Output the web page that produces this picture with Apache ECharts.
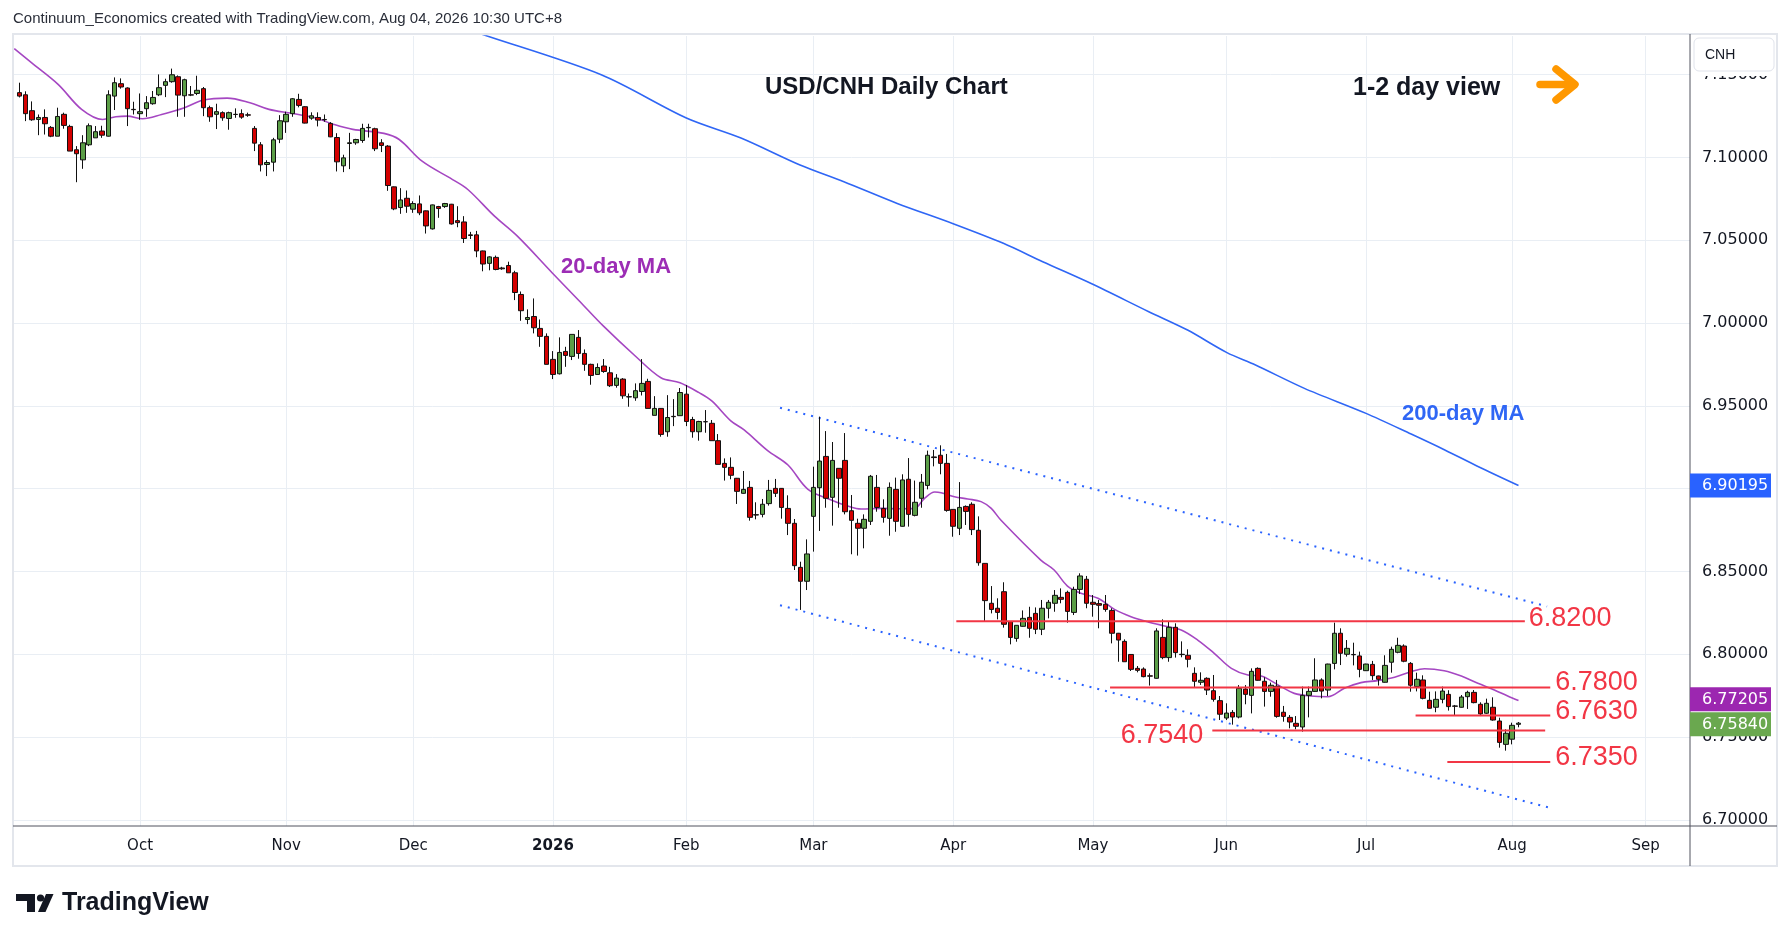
<!DOCTYPE html>
<html><head><meta charset="utf-8">
<script src="https://cdn.jsdelivr.net/npm/echarts@6/dist/echarts.min.js"></script>
<style>html,body{margin:0;padding:0;background:#fff;}#c{width:1789px;height:941px;}</style>
</head><body><div id="c"></div>
<script>
// ---- axis ticks ----
const monthTickIdx = [19,42,62,84,105,125,147,169,190,212,235,256];
const monthTickLabels = ['Oct','Nov','Dec','2026','Feb','Mar','Apr','May','Jun','Jul','Aug','Sep'];
const priceTicks = [6.70,6.75,6.80,6.85,6.90,6.95,7.00,7.05,7.10,7.15];

// ---- daily OHLC, 4 Sep 2025 .. 4 Aug 2026 (trading-day index 0..236) ----
const openP = [7.1392,7.1379,7.1283,7.1230,7.1242,7.1182,7.1129,7.1261,7.1188,7.1047,
7.0986,7.1077,7.1119,7.1160,7.1129,7.1371,7.1446,7.1420,7.1291,7.1265,
7.1295,7.1325,7.1379,7.1436,7.1458,7.1488,7.1373,7.1379,7.1387,7.1416,
7.1301,7.1261,7.1271,7.1236,7.1261,7.1265,7.1258,7.1176,7.1077,7.0958,
7.0972,7.1111,7.1216,7.1265,7.1351,7.1307,7.1238,7.1242,7.1230,7.1206,
7.1121,7.0950,7.1085,7.1089,7.1103,7.1180,7.1174,7.1089,7.1069,7.0823,
7.0698,7.0754,7.0688,7.0720,7.0678,7.0569,7.0704,7.0704,7.0718,7.0619,
7.0611,7.0533,7.0533,7.0436,7.0361,7.0397,7.0333,7.0348,7.0304,7.0173,
7.0022,7.0040,6.9968,6.9920,6.9781,6.9694,6.9829,6.9799,6.9914,6.9817,
6.9751,6.9690,6.9741,6.9700,6.9624,6.9662,6.9556,6.9549,6.9587,6.9648,
6.9443,6.9485,6.9344,6.9437,6.9441,6.9571,6.9418,6.9344,6.9404,6.9395,
6.9290,6.9153,6.9129,6.9063,6.8972,6.9008,6.8843,6.8845,6.8910,6.9002,
6.9002,6.8881,6.8791,6.8525,6.8441,6.8833,6.9006,6.9195,6.8948,6.9123,
6.9171,6.8867,6.8791,6.8761,6.8803,6.9008,6.8881,6.8821,6.8996,6.8773,
6.9057,6.8839,6.8942,6.9020,6.9192,6.9202,6.9153,6.8875,6.8761,6.8893,
6.8906,6.8749,6.8549,6.8308,6.8278,6.8378,6.8197,6.8096,6.8169,6.8223,
6.8247,6.8151,6.8278,6.8308,6.8344,6.8374,6.8253,6.8392,6.8453,6.8314,
6.8306,6.8302,6.8265,6.8127,6.8078,6.7999,6.7915,6.7911,6.7870,6.7855,
6.8102,6.7980,6.8163,6.7998,6.7994,6.7885,6.7831,6.7855,6.7780,6.7720,
6.7615,6.7649,6.7621,6.7790,6.7752,6.7915,6.7837,6.7776,6.7807,6.7650,
6.7619,6.7583,6.7561,6.7752,6.7776,6.7845,6.7784,6.7945,6.8127,6.8000,
6.7999,6.7990,6.7901,6.7939,6.7869,6.7831,6.7952,6.8012,6.8050,6.7945,
6.7805,6.7845,6.7722,6.7680,6.7728,6.7758,6.7688,6.7680,6.7744,6.7770,
6.7698,6.7644,6.7680,6.7597,6.7456,6.7487,6.7577];
const highP = [7.1452,7.1400,7.1339,7.1260,7.1291,7.1190,7.1301,7.1271,7.1198,7.1069,
7.1135,7.1206,7.1190,7.1192,7.1406,7.1484,7.1478,7.1424,7.1337,7.1387,
7.1371,7.1402,7.1502,7.1476,7.1537,7.1496,7.1476,7.1432,7.1494,7.1426,
7.1313,7.1325,7.1279,7.1277,7.1297,7.1291,7.1271,7.1190,7.1093,7.0984,
7.1119,7.1256,7.1277,7.1359,7.1385,7.1310,7.1273,7.1273,7.1260,7.1214,
7.1147,7.1017,7.1149,7.1113,7.1204,7.1204,7.1180,7.1111,7.1075,7.0825,
7.0815,7.0801,7.0736,7.0771,7.0680,7.0716,7.0708,7.0726,7.0720,7.0706,
7.0646,7.0551,7.0557,7.0438,7.0404,7.0408,7.0340,7.0371,7.0316,7.0191,
7.0083,7.0149,7.0022,6.9938,6.9831,6.9914,6.9857,6.9932,6.9958,6.9841,
6.9755,6.9757,6.9783,6.9736,6.9692,6.9668,6.9575,6.9636,6.9783,6.9664,
6.9559,6.9487,6.9565,6.9541,6.9608,6.9626,6.9434,6.9410,6.9475,6.9415,
6.9330,6.9183,6.9189,6.9065,6.9107,6.9047,6.8918,6.8938,6.9053,6.9059,
6.9004,6.8960,6.8817,6.8559,6.8694,6.9133,6.9435,6.9348,6.9282,6.9125,
6.9336,6.8962,6.8819,6.8845,6.9083,6.9083,6.8936,6.9038,6.9067,6.9087,
6.9185,6.9049,6.9089,6.9230,6.9234,6.9262,6.9210,6.8877,6.9040,6.8899,
6.8918,6.8833,6.8551,6.8412,6.8338,6.8435,6.8199,6.8175,6.8265,6.8287,
6.8283,6.8328,6.8328,6.8388,6.8398,6.8384,6.8408,6.8489,6.8473,6.8358,
6.8328,6.8358,6.8278,6.8129,6.8090,6.8001,6.7929,6.7921,6.7885,6.8157,
6.8211,6.8195,6.8187,6.8078,6.8030,6.7921,6.7891,6.7861,6.7875,6.7748,
6.7704,6.7663,6.7814,6.7814,6.7915,6.7921,6.7861,6.7829,6.7845,6.7688,
6.7633,6.7627,6.7805,6.7805,6.7976,6.7855,6.7943,6.8191,6.8157,6.8086,
6.8070,6.8016,6.7943,6.7960,6.7871,6.7994,6.8046,6.8100,6.8060,6.7953,
6.7889,6.7873,6.7774,6.7776,6.7805,6.7783,6.7694,6.7754,6.7780,6.7784,
6.7710,6.7732,6.7740,6.7617,6.7547,6.7587,6.7591];
const lowP = [7.1363,7.1220,7.1222,7.1135,7.1139,7.1123,7.1129,7.1174,7.1039,7.0851,
7.0932,7.1069,7.1119,7.1119,7.1127,7.1287,7.1416,7.1190,7.1260,7.1228,
7.1246,7.1319,7.1371,7.1365,7.1452,7.1246,7.1246,7.1371,7.1377,7.1250,
7.1216,7.1172,7.1222,7.1168,7.1240,7.1234,7.1246,7.1039,7.0916,7.0888,
7.0916,7.1087,7.1149,7.1246,7.1303,7.1206,7.1228,7.1188,7.1216,7.1123,
7.0916,7.0912,7.0930,7.1077,7.1089,7.1121,7.1039,7.1033,7.0799,7.0682,
7.0660,7.0666,7.0666,7.0652,7.0541,7.0565,7.0636,7.0696,7.0595,7.0579,
7.0484,7.0508,7.0398,7.0313,7.0319,7.0319,7.0322,7.0304,7.0139,7.0014,
6.9994,6.9938,6.9857,6.9751,6.9662,6.9690,6.9736,6.9777,6.9785,6.9712,
6.9628,6.9688,6.9700,6.9614,6.9610,6.9543,6.9495,6.9531,6.9563,6.9485,
6.9443,6.9314,6.9314,6.9378,6.9441,6.9378,6.9308,6.9290,6.9338,6.9290,
6.9147,6.9049,6.9057,6.8908,6.8970,6.8807,6.8815,6.8827,6.8898,6.8950,
6.8819,6.8720,6.8509,6.8268,6.8388,6.8620,6.8745,6.8885,6.8777,6.8885,
6.8845,6.8604,6.8596,6.8640,6.8781,6.8861,6.8795,6.8716,6.8740,6.8771,
6.8771,6.8833,6.8885,6.8996,6.9135,6.9087,6.8861,6.8710,6.8720,6.8781,
6.8720,6.8535,6.8197,6.8247,6.8211,6.8161,6.8060,6.8076,6.8167,6.8100,
6.8122,6.8116,6.8217,6.8257,6.8308,6.8191,6.8237,6.8364,6.8278,6.8227,
6.8157,6.8257,6.8066,6.7955,6.7955,6.7899,6.7891,6.7861,6.7811,6.7853,
6.7970,6.7955,6.7980,6.7982,6.7921,6.7798,6.7815,6.7754,6.7714,6.7603,
6.7603,6.7575,6.7613,6.7698,6.7643,6.7841,6.7684,6.7744,6.7617,6.7593,
6.7553,6.7547,6.7533,6.7619,6.7774,6.7734,6.7748,6.7909,6.7935,6.7986,
6.7933,6.7861,6.7899,6.7845,6.7811,6.7829,6.7889,6.8006,6.7952,6.7774,
6.7776,6.7728,6.7672,6.7650,6.7704,6.7660,6.7629,6.7678,6.7670,6.7704,
6.7627,6.7640,6.7599,6.7436,6.7418,6.7456,6.7559];
const closeP = [7.1371,7.1265,7.1228,7.1242,7.1204,7.1129,7.1248,7.1194,7.1039,7.1023,
7.1089,7.1192,7.1156,7.1135,7.1379,7.1452,7.1426,7.1295,7.1289,7.1277,
7.1331,7.1363,7.1422,7.1458,7.1500,7.1377,7.1470,7.1377,7.1406,7.1301,
7.1246,7.1277,7.1240,7.1271,7.1260,7.1244,7.1256,7.1087,7.0956,7.0970,
7.1107,7.1222,7.1261,7.1355,7.1315,7.1208,7.1252,7.1226,7.1228,7.1125,
7.0974,7.0998,7.1089,7.1109,7.1176,7.1182,7.1053,7.1073,7.0831,7.0690,
7.0744,7.0706,7.0722,7.0666,7.0587,7.0714,7.0692,7.0722,7.0599,7.0607,
7.0511,7.0529,7.0436,7.0357,7.0400,7.0324,7.0328,7.0304,7.0185,7.0075,
7.0034,6.9972,6.9920,6.9751,6.9690,6.9823,6.9805,6.9932,6.9817,6.9751,
6.9684,6.9732,6.9708,6.9622,6.9668,6.9561,6.9554,6.9592,6.9636,6.9485,
6.9485,6.9328,6.9430,6.9435,6.9581,6.9406,6.9344,6.9406,6.9405,6.9290,
6.9147,6.9129,6.9081,6.8984,6.8996,6.8827,6.8841,6.8906,6.8990,6.8972,
6.8887,6.8791,6.8535,6.8441,6.8606,6.9008,6.9167,6.8942,6.9171,6.9063,
6.8861,6.8809,6.8761,6.8815,6.9075,6.8887,6.8827,6.9008,6.8803,6.9053,
6.8845,6.8918,6.9039,6.9202,6.9188,6.9153,6.8869,6.8773,6.8887,6.8863,
6.8753,6.8553,6.8324,6.8271,6.8253,6.8181,6.8102,6.8175,6.8217,6.8157,
6.8151,6.8278,6.8314,6.8356,6.8332,6.8259,6.8392,6.8473,6.8308,6.8302,
6.8296,6.8271,6.8127,6.8086,6.7955,6.7909,6.7903,6.7865,6.7868,6.8141,
6.7980,6.8163,6.8010,6.8000,6.7970,6.7837,6.7843,6.7784,6.7728,6.7638,
6.7645,6.7621,6.7794,6.7758,6.7897,6.7843,6.7776,6.7813,6.7625,6.7625,
6.7591,6.7565,6.7752,6.7776,6.7845,6.7778,6.7941,6.8127,6.8006,6.8036,
6.7997,6.7909,6.7941,6.7871,6.7849,6.7933,6.8030,6.8054,6.7958,6.7813,
6.7849,6.7734,6.7674,6.7728,6.7778,6.7684,6.7686,6.7742,6.7770,6.7708,
6.7640,6.7704,6.7603,6.7468,6.7523,6.7571,6.7584];

// ---- moving averages (x = trading-day index) ----
const ma20X = [-0.8,1.9,6.1,9.8,13.1,15.2,17.0,19.4,22.4,26.0,29.0,32.7,36.3,39.3,42.9,46.5,49.5,52.5,57.4,59.8,63.4,68.2,70.6,74.8,78.4,83.9,88,92,97,101,104,107,109,112,114.1,117.8,121,124.1,127.8,130.4,132.5,135.6,138.8,140.9,142.5,144.1,145.1,147.2,149.3,151.4,153,154.5,160.8,162.9,165,167.1,169.8,172.4,175,177.6,180.3,182.9,185.5,188.1,190.8,193.4,195.5,197,198.6,200.7,203.3,206,208.6,211.2,213.8,216.5,219.1,221.2,224.3,227,229.6,232.2,234.3,236];
const ma20Y = [7.1658,7.1573,7.1442,7.1291,7.1230,7.1246,7.1250,7.1234,7.1260,7.1301,7.1347,7.1359,7.1331,7.1291,7.1267,7.1240,7.1200,7.1170,7.1146,7.1109,7.0978,7.0867,7.0807,7.0646,7.0525,7.0303,7.014,6.998,6.980,6.967,6.964,6.958,6.953,6.941,6.9355,6.9230,6.9143,6.8998,6.8932,6.8895,6.8877,6.8881,6.8879,6.8881,6.8942,6.8980,6.8976,6.8952,6.8938,6.8922,6.8881,6.8811,6.8569,6.8509,6.8412,6.8368,6.8338,6.8271,6.8227,6.8197,6.8171,6.8147,6.8086,6.8006,6.7915,6.7875,6.7869,6.7841,6.7805,6.7764,6.7748,6.7744,6.7795,6.7829,6.7841,6.7861,6.7895,6.7913,6.7901,6.7869,6.7825,6.7785,6.7748,6.77205];
const ma200X = [68.0,72.4,91.6,105,113.6,122.9,129.8,138.2,146.9,154.9,161.1,168.9,177.8,183.9,190.1,194.6,202.3,212,219.1,224.4,229.7,236];
const ma200Y = [7.181,7.175,7.150,7.1239,7.1118,7.0955,7.0854,7.0723,7.0602,7.0482,7.0371,7.0236,7.0069,6.9958,6.9822,6.9747,6.9606,6.9455,6.9330,6.9234,6.9133,6.90195];

// ---- channel and horizontal levels ----
const upperChX = [119.75,240.5], upperChY = [6.9489,6.8289];
const lowerChX = [119.75,240.7], lowerChY = [6.8296,6.7075];
const levelValues = [6.82,6.78,6.763,6.754,6.735];
const levelTexts = ['6.8200','6.7800','6.7630','6.7540','6.7350'];
const levelFrom = [147.5,171.7,219.8,187.8,224.8];
const levelTo = [237.0,241.0,241.0,240.2,241.0];
const lastClose = 6.75840, lastMa20 = 6.77205, lastMa200 = 6.90195;

const RED = '#f23645';
const chart = echarts.init(document.getElementById('c'), null, {renderer:'canvas'});
const zip = (xs, ys) => xs.map((x,i)=>[x, ys[i]]);

const series = [
  {type:'candlestick', data: openP.map((o,i)=>[i,o,closeP[i],lowP[i],highP[i]]),
   encode:{x:0,y:[1,2,3,4]}, barWidth:5, z:5,
   itemStyle:{color:'#5b9e47', color0:'#d40000', borderColor:'#111', borderColor0:'#111', borderWidth:1}},
  {type:'line', data: zip(ma20X, ma20Y), showSymbol:false, smooth:0.35, z:4,
   lineStyle:{color:'#a547c2', width:1.6}},
  {type:'line', data: zip(ma200X, ma200Y), showSymbol:false, smooth:0.3, z:4,
   lineStyle:{color:'#2f66f5', width:1.6}},
  {type:'line', data: zip(upperChX, upperChY), showSymbol:false, z:3,
   lineStyle:{color:'#2962ff', width:2, type:[2,6]}},
  {type:'line', data: zip(lowerChX, lowerChY), showSymbol:false, z:3,
   lineStyle:{color:'#2962ff', width:2, type:[2,6]}}
];
levelValues.forEach((v,k)=>{
  series.push({type:'line', data:[[levelFrom[k],v],[levelTo[k],v]], showSymbol:false, z:6,
    lineStyle:{color:RED, width:2}});
});

const AX = '"DejaVu Sans", sans-serif';
const LIB = '"Liberation Sans", Arial, sans-serif';

const staticGraphics = [
  {type:'rect', shape:{x:13,y:34,width:1764,height:832}, style:{fill:'none', stroke:'#e3e6ec', lineWidth:2}, z:50},
  {type:'line', shape:{x1:1690,y1:34,x2:1690,y2:866}, style:{stroke:'#50535e', lineWidth:1}, z:50},
  {type:'line', shape:{x1:13,y1:826,x2:1777,y2:826}, style:{stroke:'#50535e', lineWidth:1}, z:50},
  {type:'text', x:13, y:19, style:{text:'Continuum_Economics created with TradingView.com, Aug 04, 2026 10:30 UTC+8', fill:'#2a2e39', fontSize:15, fontFamily:LIB, verticalAlign:'middle'}},
  {type:'text', x:765, y:87, style:{text:'USD/CNH Daily Chart', fill:'#131722', fontSize:24, fontWeight:'bold', fontFamily:LIB, verticalAlign:'middle'}, z:60},
  {type:'text', x:1353, y:88, style:{text:'1-2 day view', fill:'#131722', fontSize:25, fontWeight:'bold', fontFamily:LIB, verticalAlign:'middle'}, z:60},
  {type:'polyline', shape:{points:[[1540,84.5],[1572,84.5]]}, style:{stroke:'#ff9800', lineWidth:7.5, fill:'none', lineCap:'round'}, z:60},
  {type:'polyline', shape:{points:[[1556,69],[1575,84.5],[1556,100]]}, style:{stroke:'#ff9800', lineWidth:7.5, fill:'none', lineCap:'round', lineJoin:'round'}, z:60},
  {type:'text', x:561, y:267, style:{text:'20-day MA', fill:'#9c2db5', fontSize:22, fontWeight:'bold', fontFamily:LIB, verticalAlign:'middle'}, z:60},
  {type:'text', x:1402, y:414, style:{text:'200-day MA', fill:'#2f66f5', fontSize:22, fontWeight:'bold', fontFamily:LIB, verticalAlign:'middle'}, z:60},
  {type:'rect', shape:{x:1691,y:35,width:85,height:41}, style:{fill:'#fff'}, z:89},
  {type:'rect', shape:{x:1694,y:38,width:80,height:33,r:5}, style:{fill:'#fff', stroke:'#e0e3eb', lineWidth:1}, z:90},
  {type:'text', x:1705, y:55, style:{text:'CNH', fill:'#131722', fontSize:14, fontFamily:LIB, verticalAlign:'middle'}, z:91},
  // TradingView logo
  {type:'rect', shape:{x:16,y:894,width:19,height:7}, style:{fill:'#131722'}},
  {type:'rect', shape:{x:27,y:894,width:8,height:18}, style:{fill:'#131722'}},
  {type:'circle', shape:{cx:40.5,cy:898,r:3.6}, style:{fill:'#131722'}},
  {type:'polygon', shape:{points:[[46,894],[53.5,894],[45.5,912],[38,912]]}, style:{fill:'#131722'}},
  {type:'text', x:62, y:903, style:{text:'TradingView', fill:'#131722', fontSize:25, fontWeight:'bold', fontFamily:LIB, verticalAlign:'middle'}}
];

const option = {
  animation:false,
  backgroundColor:'#ffffff',
  grid:{left:13, right:99, top:36, bottom:115},
  xAxis:{type:'value', min:-1, max:263,
    axisLine:{show:false}, axisTick:{show:false, customValues:monthTickIdx},
    axisLabel:{customValues:monthTickIdx, margin:13, color:'#131722', fontSize:15, fontFamily:AX,
      formatter:(v)=>{const k=monthTickIdx.indexOf(Math.round(v)); const t=monthTickLabels[k]||''; return /^\d+$/.test(t)?'{b|'+t+'}':t;},
      rich:{b:{fontWeight:'bold', fontSize:15, fontFamily:AX, color:'#131722'}}},
    splitLine:{show:true, lineStyle:{color:'#e9eef4', width:1}}},
  yAxis:{type:'value', position:'right', min:6.6963, max:7.1734, scale:true,
    axisLine:{show:false}, axisTick:{show:false, customValues:priceTicks},
    axisLabel:{customValues:priceTicks, margin:12, color:'#131722', fontSize:16, fontFamily:AX,
      formatter:(v)=>v.toFixed(5)},
    splitLine:{show:true, lineStyle:{color:'#e9eef4', width:1}}},
  series: series,
  graphic: staticGraphics
};
chart.setOption(option);

// ---- labels and price tags positioned with the chart's own scales ----
const px = (x,y)=>chart.convertToPixel({gridIndex:0},[x,y]);
const dyn = [];
const lblOffset = [-3,-5,-4,5,-4];
levelValues.forEach((v,k)=>{
  if (k===3) {
    const p = px(levelFrom[k], v);
    dyn.push({type:'text', x:p[0]-9, y:p[1]+lblOffset[k], style:{text:levelTexts[k], fill:RED, fontSize:27, fontFamily:LIB, align:'right', verticalAlign:'middle'}, z:70});
  } else {
    const p = px(levelTo[k], v);
    dyn.push({type:'text', x:p[0]+(k===0?4:5), y:p[1]+lblOffset[k], style:{text:levelTexts[k], fill:RED, fontSize:27, fontFamily:LIB, align:'left', verticalAlign:'middle'}, z:70});
  }
});
const tags = [[lastMa200,'#2962ff'],[lastMa20,'#9c27b0'],[lastClose,'#6aa84f']];
let ys = tags.map(t=>px(0,t[0])[1]);
// keep tags from overlapping (as the price scale does)
if (ys[2]-ys[1] < 25) { const mid=(ys[1]+ys[2])/2; ys[1]=mid-12.5; ys[2]=mid+12.5; }
tags.forEach((t,k)=>{
  dyn.push({type:'rect', shape:{x:1690,y:ys[k]-12,width:81,height:24}, style:{fill:t[1]}, z:80});
  dyn.push({type:'text', x:1702, y:ys[k], style:{text:t[0].toFixed(5), fill:'#ffffff', fontSize:16, fontFamily:AX, verticalAlign:'middle'}, z:81});
});
chart.setOption({graphic: staticGraphics.concat(dyn)});
</script></body></html>
